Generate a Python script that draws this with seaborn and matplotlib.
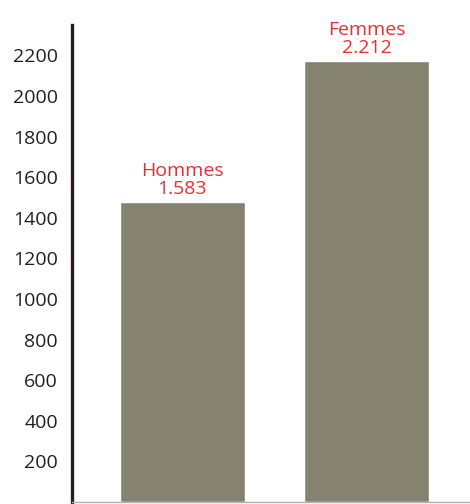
import matplotlib
matplotlib.use("Agg")
import matplotlib.pyplot as plt
import seaborn as sns
import pandas as pd

# data
categories = ["Hommes", "Femmes"]
bar_heights = [1478, 2172]
value_labels = ["1.583", "2.212"]
y_ticks = [200, 400, 600, 800, 1000, 1200, 1400, 1600, 1800, 2000, 2200]

BAR_COLOR = "#85826f"
RED = "#ed2d31"

sns.set_style("white")
plt.rcParams["font.family"] = ["Open Sans", "DejaVu Sans"]

df = pd.DataFrame({"sexe": categories, "valeur": bar_heights})

fig = plt.figure(figsize=(4.7, 5.04), dpi=100)
ax = fig.add_axes([72 / 470, 2 / 504, 398 / 470, 477 / 504])

sns.barplot(data=df, x="sexe", y="valeur", color=BAR_COLOR, saturation=1,
            width=0.68, ax=ax)

ax.set_ylim(0, 2350)
ax.set_xlim(-0.60, 1.5625)
ax.set_yticks(y_ticks)
ax.set_yticklabels([str(t) for t in y_ticks], fontsize=14, color="#231f20")
ax.tick_params(axis="y", length=0, pad=10)
ax.set_xticks([])
ax.set_xlabel("")
ax.set_ylabel("")

for side in ["top", "right"]:
    ax.spines[side].set_visible(False)
ax.spines["left"].set_color("#231f20")
ax.spines["left"].set_linewidth(2.4)
ax.spines["bottom"].set_color("#b0b0b0")
ax.spines["bottom"].set_linewidth(1)

for i, (name, lab) in enumerate(zip(categories, value_labels)):
    ax.annotate(f"{name}\n{lab}", xy=(i, bar_heights[i]), xytext=(0, 3),
                textcoords="offset points", ha="center", va="bottom",
                fontsize=14, color=RED, linespacing=1.0)

fig.savefig("out.png", dpi=100)
